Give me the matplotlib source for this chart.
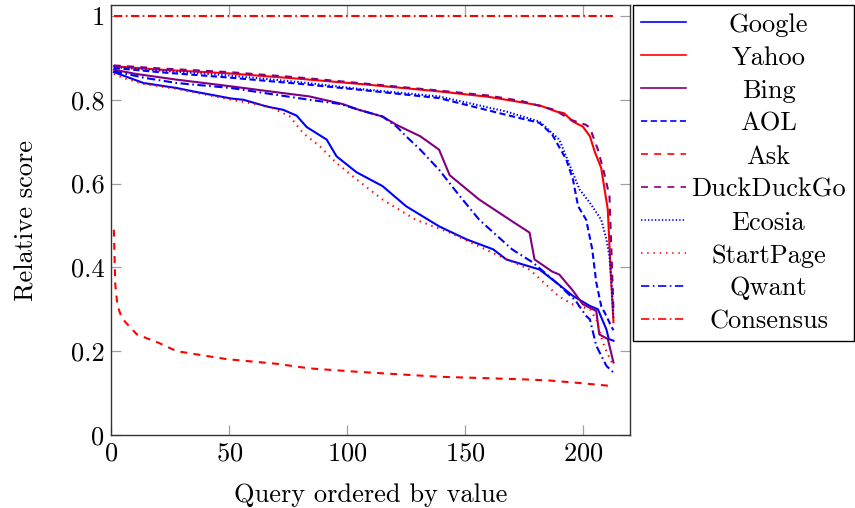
import matplotlib
matplotlib.use("Agg")
import matplotlib.pyplot as plt

plt.rcParams["font.family"] = "serif"
plt.rcParams["font.serif"] = ["cmr10", "DejaVu Serif"]
plt.rcParams["mathtext.fontset"] = "cm"
plt.rcParams["axes.formatter.use_mathtext"] = True
plt.rcParams["lines.scale_dashes"] = False

# values (query rank -> relative score)
google_x = [1, 13.6, 27.7, 34.7, 50.8, 56, 65.8, 72.9, 78.6, 82.8, 91.3, 95.5, 104, 115, 125,
            139, 150.6, 162, 167.5, 181.6, 188.7, 195.8, 203, 206.4, 210, 211, 213]
google_y = [0.866, 0.840, 0.828, 0.820, 0.803, 0.800, 0.784, 0.776, 0.762, 0.735, 0.705, 0.665,
            0.627, 0.594, 0.546, 0.498, 0.467, 0.443, 0.419, 0.395, 0.364, 0.332, 0.308, 0.300,
            0.252, 0.229, 0.225]

yahoo_x = [1, 20, 50, 80, 105, 139, 160, 174, 182, 188.7, 192, 195.8, 200, 203, 205, 207.8,
           209, 210.6, 211.7, 213]
yahoo_y = [0.880, 0.872, 0.863, 0.850, 0.838, 0.820, 0.807, 0.794, 0.786, 0.772, 0.768, 0.748,
           0.736, 0.713, 0.677, 0.637, 0.594, 0.538, 0.403, 0.269]

bing_x = [1, 10, 27.7, 50.8, 70, 84, 98, 105, 115, 121, 131, 139, 143.5, 156, 170, 177.4,
          179.5, 187, 190, 195.7, 200, 205.7, 207, 210.6, 213]
bing_y = [0.872, 0.862, 0.848, 0.832, 0.818, 0.808, 0.790, 0.776, 0.760, 0.740, 0.713, 0.681,
          0.620, 0.562, 0.510, 0.483, 0.419, 0.390, 0.383, 0.345, 0.312, 0.296, 0.240, 0.229,
          0.173]

aol_x = [1, 20, 50, 80, 105, 139, 167.5, 181.6, 187, 193, 195.8, 198, 201.4, 204, 205.7,
         207.8, 210, 212, 213]
aol_y = [0.876, 0.866, 0.853, 0.838, 0.824, 0.804, 0.764, 0.745, 0.717, 0.657, 0.610, 0.546,
         0.514, 0.443, 0.364, 0.308, 0.284, 0.260, 0.250]

ask_x = [1, 1.6, 2.5, 4, 5.8, 10.8, 20, 27.7, 48.9, 70, 84, 104, 139, 174, 186, 198.6, 212]
ask_y = [0.49, 0.36, 0.31, 0.285, 0.27, 0.24, 0.22, 0.20, 0.181, 0.170, 0.159, 0.151, 0.139,
         0.133, 0.130, 0.124, 0.117]

ddg_x = [1, 20, 50, 80, 105, 139, 160, 174, 188, 195, 201.4, 203, 206.4, 209, 211.3, 212.2, 213]
ddg_y = [0.882, 0.875, 0.866, 0.853, 0.840, 0.822, 0.810, 0.797, 0.776, 0.752, 0.740, 0.733,
         0.681, 0.626, 0.570, 0.427, 0.300]

ecosia_x = [1, 20, 50, 80, 105, 139, 167.5, 181.6, 190, 194, 198.6, 203, 207.8, 210, 211.3,
            212.3, 213]
ecosia_y = [0.878, 0.870, 0.858, 0.842, 0.826, 0.808, 0.772, 0.748, 0.705, 0.650, 0.586, 0.554,
            0.514, 0.467, 0.427, 0.350, 0.280]

startpage_x = [1, 5, 13.6, 27.7, 50.8, 67, 75.7, 81.4, 88.4, 95.5, 104, 115, 129, 143.5, 164.7,
               177.4, 190, 195.8, 203, 205.7, 208.5, 210, 213]
startpage_y = [0.862, 0.852, 0.838, 0.826, 0.800, 0.784, 0.760, 0.720, 0.689, 0.649, 0.610,
               0.562, 0.514, 0.483, 0.427, 0.395, 0.330, 0.312, 0.300, 0.276, 0.221, 0.200, 0.165]

qwant_x = [1, 14.4, 27.7, 50.8, 84, 97, 105, 115, 121, 125, 131, 139, 147.8, 156, 170, 178.7,
           188.7, 197, 201.4, 203, 205.7, 210, 213]
qwant_y = [0.868, 0.852, 0.840, 0.828, 0.800, 0.790, 0.776, 0.760, 0.736, 0.713, 0.681, 0.633,
           0.570, 0.514, 0.443, 0.412, 0.364, 0.320, 0.284, 0.276, 0.213, 0.165, 0.149]

consensus_x = [1, 213]
consensus_y = [1.0, 1.0]

ytick_vals = [0, 0.2, 0.4, 0.6, 0.8, 1]
ytick_labels = ["0", "0.2", "0.4", "0.6", "0.8", "1"]
xtick_vals = [0, 50, 100, 150, 200]

blue = "#0000ff"
red = "#ff0000"
violet = "#800080"
fs = 19

fig = plt.figure(figsize=(8.55, 5.08), dpi=100)
ax = fig.add_axes([0.1304, 0.1437, 0.6064, 0.8463])

lw = 1.5
ax.plot(google_x, google_y, color=blue, lw=lw, label="Google")
ax.plot(yahoo_x, yahoo_y, color=red, lw=lw, label="Yahoo")
ax.plot(bing_x, bing_y, color=violet, lw=lw, label="Bing")
ax.plot(aol_x, aol_y, color=blue, lw=lw, ls=(0, (4.5, 2.5)), label="AOL")
ax.plot(ask_x, ask_y, color=red, lw=lw, ls=(0, (5, 4.5)), label="Ask")
ax.plot(ddg_x, ddg_y, color=violet, lw=lw, ls=(0, (5, 4.5)), label="DuckDuckGo")
ax.plot(ecosia_x, ecosia_y, color=blue, lw=lw, ls=(0, (1, 1.5)), label="Ecosia")
ax.plot(startpage_x, startpage_y, color=red, lw=lw, ls=(0, (1, 3.5)), label="StartPage")
ax.plot(qwant_x, qwant_y, color=blue, lw=lw, ls=(0, (6, 2.5, 1.2, 2.5)), label="Qwant")
ax.plot(consensus_x, consensus_y, color=red, lw=lw, ls=(0, (6, 2.5, 1.2, 2.5)), label="Consensus")

ax.set_xlim(0, 220)
ax.set_ylim(0, 1.026)
ax.set_xticks(xtick_vals)
ax.set_yticks(ytick_vals)
ax.set_yticklabels(ytick_labels)
ax.tick_params(direction="in", length=7, width=0.9, color="#a0a0a0",
               top=True, right=True, labelsize=fs, pad=5)
for s in ax.spines.values():
    s.set_color("#333333")
    s.set_linewidth(1.0)

ax.set_xlabel("Query ordered by value", fontsize=fs, labelpad=13)
ax.set_ylabel("Relative score", fontsize=fs, labelpad=23)

leg = ax.legend(loc="upper left", bbox_to_anchor=(1.006, 1.0), borderaxespad=0,
                fontsize=fs, frameon=True, fancybox=False, framealpha=1,
                edgecolor="black", handlelength=1.7, handletextpad=0.2,
                labelspacing=0.35, borderpad=0.3)
leg.get_frame().set_linewidth(1.0)
for h in leg.get_lines():
    h.set_linewidth(1.2)

# center the labels in their column, like pgfplots does
fig.canvas.draw()
renderer = fig.canvas.get_renderer()
widths = [t.get_window_extent(renderer).width for t in leg.get_texts()]
wmax = max(widths)
for t, w in zip(leg.get_texts(), widths):
    t.set_x((wmax - w) / 2)

fig.savefig("out.png", dpi=100)
